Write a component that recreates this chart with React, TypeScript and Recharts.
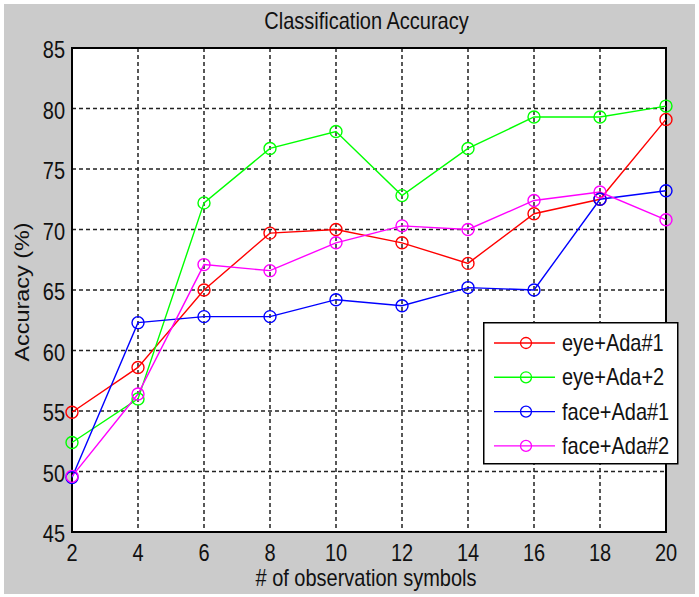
import React from 'react';
import {
  LineChart,
  Line,
  XAxis,
  YAxis,
  CartesianGrid,
  ReferenceArea,
  Legend,
  Label,
} from 'recharts';

// Number of observation symbols (x axis)
const symbols = [2, 4, 6, 8, 10, 12, 14, 16, 18, 20];

// Classification accuracy (%) for each configuration
const eyeAda1 = [54.9, 58.6, 65.0, 69.7, 70.0, 68.9, 67.2, 71.3, 72.5, 79.1];
const eyeAda2 = [52.4, 56.0, 72.2, 76.7, 78.1, 72.8, 76.7, 79.3, 79.3, 80.2];
const faceAda1 = [49.5, 62.3, 62.8, 62.8, 64.2, 63.7, 65.2, 65.0, 72.5, 73.2];
const faceAda2 = [49.6, 56.4, 67.1, 66.6, 68.9, 70.3, 70.0, 72.4, 73.1, 70.8];

const seriesNames = ['eye+Ada#1', 'eye+Ada+2', 'face+Ada#1', 'face+Ada#2'];
const seriesColors = ['#ff0000', '#00ff00', '#0000ff', '#ff00ff'];
const seriesValues = [eyeAda1, eyeAda2, faceAda1, faceAda2];

const xTicks = [2, 4, 6, 8, 10, 12, 14, 16, 18, 20];
const yTicks = [45, 50, 55, 60, 65, 70, 75, 80, 85];

const titleText = 'Classification Accuracy';
const xLabelText = '# of observation symbols';
const yLabelText = 'Accuracy (%)';

const data = symbols.map((n, i) => {
  const row: Record<string, number> = { n };
  seriesValues.forEach((vals, s) => {
    row[`s${s}`] = vals[i];
  });
  return row;
});

const FONT = '"Liberation Sans", Arial, Helvetica, sans-serif';
const TEXT_COLOR = '#111';
const SY = 1.17; // vertical stretch of the figure text

const XTick = (props: any) => {
  const { x, y, payload } = props;
  return (
    <g transform={`translate(${x},${y}) scale(1,${SY})`}>
      <text x={0} y={24.8} textAnchor="middle" fontFamily={FONT} fontSize={20} fill={TEXT_COLOR}>
        {payload.value}
      </text>
    </g>
  );
};

const YTick = (props: any) => {
  const { x, y, payload } = props;
  return (
    <g transform={`translate(${x - 7},${y + 1.5}) scale(1,${SY})`}>
      <text x={0} y={7.4} textAnchor="end" fontFamily={FONT} fontSize={20} fill={TEXT_COLOR}>
        {payload.value}
      </text>
    </g>
  );
};

const XLabel = () => (
  <g transform={`translate(366,586) scale(1,${SY})`}>
    <text x={0} y={0} textAnchor="middle" fontFamily={FONT} fontSize={20} fill={TEXT_COLOR}>
      {xLabelText}
    </text>
  </g>
);

const YLabel = () => (
  <g transform={`translate(22,292) rotate(-90) scale(${SY},1)`}>
    <text x={0} y={0} dy="0.35em" textAnchor="middle" fontFamily={FONT} fontSize={20} fill={TEXT_COLOR}>
      {yLabelText}
    </text>
  </g>
);

const LegendBox = () => (
  <svg width={196} height={143} style={{ display: 'block' }}>
    <rect x={0.75} y={0.75} width={194} height={141} fill="#fff" stroke="#000" strokeWidth={1.5} />
    {seriesNames.map((name, i) => {
      const cy = 21 + i * 34.3;
      return (
        <g key={name}>
          <line x1={11} x2={72} y1={cy} y2={cy} stroke={seriesColors[i]} strokeWidth={1.4} />
          <circle cx={43} cy={cy} r={5.5} fill="none" stroke={seriesColors[i]} strokeWidth={1.3} />
          <g transform={`translate(79,${cy}) scale(1,${SY})`}>
            <text x={0} y={7} fontFamily={FONT} fontSize={20} fill={TEXT_COLOR}>
              {name}
            </text>
          </g>
        </g>
      );
    })}
  </svg>
);

export default function App() {
  return (
    <div
      style={{
        position: 'absolute',
        left: 0,
        top: 0,
        width: 699,
        height: 597,
        background: '#ffffff',
        overflow: 'hidden',
      }}
    >
      <div
        style={{
          position: 'absolute',
          left: 4,
          top: 4,
          width: 691,
          height: 590,
          background: '#cbcbcb',
        }}
      />
      <div style={{ position: 'absolute', left: 0, top: 0 }}>
        <LineChart
          width={699}
          height={597}
          data={data}
          margin={{ top: 48, right: 33, bottom: 0, left: 0 }}
        >
          <CartesianGrid
            stroke="#222"
            strokeDasharray="4 3"
            strokeWidth={1.5}
            fill="#ffffff"
            fillOpacity={1}
          />
          <XAxis
            dataKey="n"
            type="number"
            domain={[2, 20]}
            ticks={xTicks}
            interval={0}
            height={65}
            tickSize={0}
            tickMargin={0}
            axisLine={false}
            tickLine={false}
            tick={<XTick />}
          >
            <Label content={<XLabel />} />
          </XAxis>
          <YAxis
            type="number"
            domain={[45, 85]}
            ticks={yTicks}
            interval={0}
            width={72}
            tickSize={0}
            tickMargin={0}
            axisLine={false}
            tickLine={false}
            tick={<YTick />}
          >
            <Label content={<YLabel />} />
          </YAxis>
          <ReferenceArea
            x1={2}
            x2={20}
            y1={45}
            y2={85}
            fill="none"
            fillOpacity={0}
            stroke="#000"
            strokeWidth={2}
            ifOverflow="visible"
          />
          {seriesNames.map((name, i) => (
            <Line
              key={name}
              type="linear"
              dataKey={`s${i}`}
              name={name}
              stroke={seriesColors[i]}
              strokeWidth={1.4}
              dot={{ r: 6, fill: 'none', stroke: seriesColors[i], strokeWidth: 1.4 }}
              activeDot={false}
              isAnimationActive={false}
            />
          ))}
          <Legend
            layout="vertical"
            align="center"
            verticalAlign="middle"
            content={<LegendBox />}
            wrapperStyle={{ position: 'absolute', left: 483, top: 322, width: 196, height: 143 }}
          />
        </LineChart>
      </div>
      <svg
        width={699}
        height={597}
        style={{ position: 'absolute', left: 0, top: 0, pointerEvents: 'none' }}
      >
        <g transform={`translate(366.5,29.3) scale(1,${SY})`}>
          <text x={0} y={0} textAnchor="middle" fontFamily={FONT} fontSize={20} fill={TEXT_COLOR}>
            {titleText}
          </text>
        </g>
      </svg>
    </div>
  );
}
